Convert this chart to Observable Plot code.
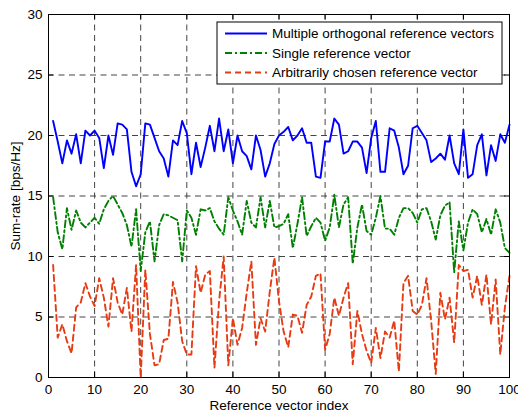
<!DOCTYPE html>
<html><head><meta charset="utf-8">
<script src="https://cdn.jsdelivr.net/npm/d3@7"></script>
<script src="https://cdn.jsdelivr.net/npm/@observablehq/plot@0.6"></script>
<style>body{margin:0;background:#fff} svg{display:block;overflow:visible}</style>
</head><body><div id="chart"></div>
<script>
const seriesNames = ["Multiple orthogonal reference vectors", "Single reference vector", "Arbitrarily chosen reference vector"];
const multiple = [21.2,19.5,17.7,19.6,18.5,20.1,17.7,20.4,20.0,20.4,19.8,17.3,20.0,18.4,21.0,20.9,20.5,17.0,15.8,16.8,
21.0,20.9,19.8,18.7,18.1,16.6,19.6,19.2,21.2,20.2,16.8,19.4,17.4,19.0,20.8,18.7,21.4,18.7,20.5,17.7,
20.0,18.7,18.3,17.2,20.0,18.8,16.6,17.7,19.3,20.0,20.3,20.7,19.6,20.0,20.6,19.4,19.4,16.6,16.5,19.5,
19.5,21.4,20.9,18.5,18.7,19.5,19.5,19.0,16.9,19.8,21.2,17.0,17.0,20.6,20.4,19.0,16.8,17.5,20.6,20.8,
20.2,19.6,17.8,18.1,18.5,18.0,20.0,17.7,16.8,20.5,16.5,16.8,19.2,20.1,16.7,19.2,17.9,20.1,19.4,20.9];
const single = [14.9,12.0,10.6,14.0,12.2,13.8,12.8,12.4,12.8,13.2,12.7,13.9,14.6,15.0,14.3,13.6,12.6,10.8,13.9,8.8,
12.0,12.9,9.6,12.6,13.5,13.4,13.2,13.0,9.6,13.8,13.2,11.8,13.9,13.8,14.0,12.9,12.3,11.8,14.9,13.8,
12.9,11.8,14.6,12.8,12.4,14.9,12.4,14.6,12.4,12.5,12.7,13.5,10.7,12.7,14.9,11.7,12.5,13.2,12.8,11.3,
12.4,15.1,12.4,14.3,14.9,9.4,12.4,14.3,12.1,11.8,13.2,15.0,12.3,12.3,11.8,13.2,14.0,14.0,13.6,12.8,
13.9,14.0,12.9,11.4,13.4,14.2,14.5,8.7,12.9,10.5,12.8,13.9,13.5,12.0,13.1,11.8,13.9,12.8,10.7,10.3];
const arbitrary = [9.3,3.3,4.4,3.0,2.0,5.8,6.2,7.8,6.7,5.9,8.2,6.6,4.2,8.2,6.2,5.2,7.4,3.8,9.3,0.0,
8.9,3.6,1.0,1.1,3.1,3.2,7.9,6.2,3.0,1.9,1.9,9.2,7.0,8.5,8.8,0.8,6.3,10.0,1.0,4.9,
2.7,4.1,7.0,9.6,2.7,4.9,3.8,7.1,9.9,6.3,3.8,2.5,5.2,5.1,3.7,6.0,6.7,8.4,8.6,2.3,
3.6,6.6,5.1,6.6,7.8,1.1,5.5,3.6,2.2,1.2,4.1,1.6,3.8,3.3,4.7,0.5,7.8,8.4,5.5,5.2,
6.0,8.2,4.7,0.3,7.0,4.8,6.6,2.9,9.3,8.8,8.9,6.6,8.4,6.0,8.5,4.4,8.1,1.9,5.8,8.4];
const xTicks = [0,10,20,30,40,50,60,70,80,90,100];
const yTicks = [0,5,10,15,20,25,30];

const index = multiple.map((_, i) => i + 1);
const colors = ["#0000ff", "#008000", "#e63c14"];
const dashes = [null, "7,3,2,3", "6,4"];

const W = 518, H = 413, mt = 14, mr = 9, mb = 36, ml = 48;
const pw = W - ml - mr, ph = H - mt - mb;
const gridStyle = {stroke: "#444", strokeOpacity: 1, strokeWidth: 1, strokeDasharray: "6,4.5"};
const seriesData = [multiple, single, arbitrary];

const chart = Plot.plot({
  width: W, height: H,
  marginTop: mt, marginRight: mr, marginBottom: mb, marginLeft: ml,
  style: {fontFamily: "'Liberation Sans', Arial, sans-serif", fontSize: "13.5px", color: "#000", background: "#fff"},
  x: {domain: [0, 100]},
  y: {domain: [0, 30]},
  marks: [
    Plot.gridX(xTicks, gridStyle),
    Plot.gridY(yTicks, gridStyle),
    Plot.ruleX(xTicks, {x: d => d, insetTop: ph - 5, stroke: "#000"}),
    Plot.ruleX(xTicks, {x: d => d, insetBottom: ph - 5, stroke: "#000"}),
    Plot.ruleY(yTicks, {y: d => d, insetRight: pw - 5, stroke: "#000"}),
    Plot.ruleY(yTicks, {y: d => d, insetLeft: pw - 5, stroke: "#000"}),
    ...seriesData.map((vals, k) => Plot.lineY(vals, {
      x: (d, i) => index[i], y: d => d,
      stroke: colors[k], strokeWidth: 1.9, strokeDasharray: dashes[k]
    })),
    Plot.frame({stroke: "#000", strokeWidth: 1}),
    Plot.axisX(xTicks, {tickSize: 0, tickPadding: 7, label: "Reference vector index", labelAnchor: "center", labelArrow: "none", labelOffset: 32}),
    Plot.axisY(yTicks, {tickSize: 0, tickPadding: 6, label: "Sum-rate [bps/Hz]", labelAnchor: "center", labelArrow: "none", labelOffset: 38})
  ]
});
document.getElementById("chart").appendChild(chart);

// legend inside plot area
const svg = d3.select(chart);
const lg = svg.append("g")
  .attr("font-family", "'Liberation Sans', Arial, sans-serif")
  .attr("font-size", "13.5px")
  .attr("text-anchor", "start");
lg.append("rect").attr("x", 217).attr("y", 22).attr("width", 285).attr("height", 62)
  .attr("fill", "#fff").attr("stroke", "#000").attr("stroke-width", 1);
const rowsY = [33.5, 53, 72.5];
seriesNames.forEach((name, k) => {
  lg.append("line").attr("x1", 225).attr("x2", 267).attr("y1", rowsY[k]).attr("y2", rowsY[k])
    .attr("stroke", colors[k]).attr("stroke-width", 1.9).attr("stroke-dasharray", dashes[k]);
  lg.append("text").attr("x", 272).attr("y", rowsY[k]).attr("dy", "0.35em")
    .attr("text-anchor", "start").attr("fill", "#000").text(name);
});
</script>
</body></html>
